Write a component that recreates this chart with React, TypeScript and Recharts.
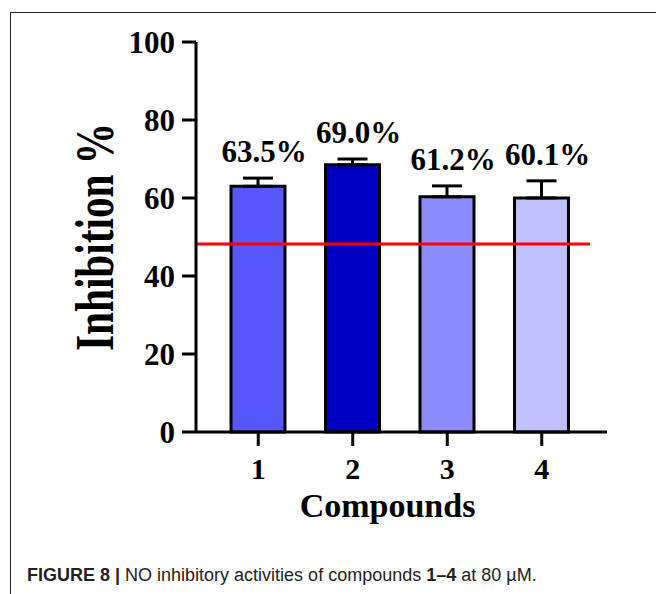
import React from "react";
import {
  BarChart,
  Bar,
  XAxis,
  YAxis,
  Cell,
  ErrorBar,
  LabelList,
  ReferenceLine,
} from "recharts";

const compounds = ["1", "2", "3", "4"];
const inhibition = [63.0, 68.5, 60.3, 60.0];
const errorUp = [2.1, 1.5, 2.8, 4.4];
const valueLabels = ["63.5%", "69.0%", "61.2%", "60.1%"];
const barColors = ["#5757FF", "#0000C2", "#8C8CFF", "#C0C0FF"];
const yTicks = [0, 20, 40, 60, 80, 100];
const thresholdLine = 48.2;

const data = compounds.map((c, i) => ({
  name: c,
  value: inhibition[i],
  err: [0, errorUp[i]],
  label: valueLabels[i],
}));

const serif = "'Liberation Serif', 'Times New Roman', serif";

const renderYLabel = (props: any) => {
  const vb = props.viewBox || {};
  const x = (vb.x || 0) + 113;
  const y = (vb.y || 0) + (vb.height || 0) / 2;
  return (
    <text
      x={x}
      y={y}
      transform={`rotate(-90, ${x}, ${y})`}
      textAnchor="middle"
      fontFamily={serif}
      fontWeight={700}
      fontSize={55}
      textLength={228}
      lengthAdjust="spacingAndGlyphs"
      fill="#000"
    >
      Inhibition %
    </text>
  );
};

const renderXLabel = (props: any) => {
  const vb = props.viewBox || {};
  const x = (vb.x || 0) + (vb.width || 0) / 2 - 14;
  const y = (vb.y || 0) + 85;
  return (
    <text x={x} y={y} textAnchor="middle" fontFamily={serif} fontWeight={700} fontSize={34} fill="#000">
      Compounds
    </text>
  );
};

// label sits just above the top of each error bar
const renderValueLabel = (props: any) => {
  const { x, y, width, height, value, index } = props;
  const bar = data[index];
  const errTop = y - (errorUp[index] * height) / bar.value;
  return (
    <text
      x={x + width / 2 + 6}
      y={errTop - 16}
      textAnchor="middle"
      fontFamily={serif}
      fontWeight={700}
      fontSize={31}
      fill="#000"
    >
      {value}
    </text>
  );
};

const ShortLine = (props: any) => {
  const { x1, y1, x2, y2 } = props;
  return <line x1={x1} y1={y1} x2={x2 - 17} y2={y2} stroke="#FF0000" strokeWidth={3} />;
};

export default function App() {
  return (
    <div
      style={{
        position: "absolute",
        left: 0,
        top: 0,
        width: 656,
        height: 594,
        background: "#fff",
        overflow: "hidden",
      }}
    >
      <div
        style={{
          position: "absolute",
          left: 10,
          top: 12,
          width: 700,
          height: 700,
          borderTop: "1px solid #222",
          borderLeft: "1px solid #222",
        }}
      />
      <div style={{ position: "absolute", left: 0, top: 0 }}>
        <BarChart
          width={656}
          height={540}
          data={data}
          margin={{ top: 42, right: 49, left: 0, bottom: 0 }}
        >
          <XAxis
            dataKey="name"
            height={108}
            padding={{ left: 15, right: 18 }}
            axisLine={{ stroke: "#000", strokeWidth: 3 }}
            tickLine={{ stroke: "#000", strokeWidth: 3 }}
            tickSize={14}
            tickMargin={12}
            tick={{ fill: "#000", fontSize: 30, fontWeight: 700, fontFamily: serif }}
            label={renderXLabel}
          />
          <YAxis
            width={196}
            domain={[0, 100]}
            ticks={yTicks}
            interval={0}
            axisLine={{ stroke: "#000", strokeWidth: 3 }}
            tickLine={{ stroke: "#000", strokeWidth: 3 }}
            tickSize={14}
            tickMargin={7}
            tick={{ fill: "#000", fontSize: 31, fontWeight: 700, fontFamily: serif }}
            label={renderYLabel}
          />
          <ReferenceLine y={thresholdLine} shape={<ShortLine />} />
          <Bar dataKey="value" barSize={54} stroke="#000" strokeWidth={3} isAnimationActive={false}>
            {data.map((d, i) => (
              <Cell key={d.name} fill={barColors[i]} />
            ))}
            <ErrorBar dataKey="err" width={15} stroke="#000" strokeWidth={3} direction="y" />
            <LabelList dataKey="label" content={renderValueLabel} />
          </Bar>
        </BarChart>
      </div>
      <div
        style={{
          position: "absolute",
          left: 27,
          top: 565,
          fontFamily: "'Liberation Sans', Arial, sans-serif",
          fontSize: 18,
          color: "#222",
          whiteSpace: "nowrap",
          lineHeight: "20px",
        }}
      >
        <b>FIGURE 8 |</b> NO inhibitory activities of compounds <b>1–4</b> at 80 µM.
      </div>
    </div>
  );
}
